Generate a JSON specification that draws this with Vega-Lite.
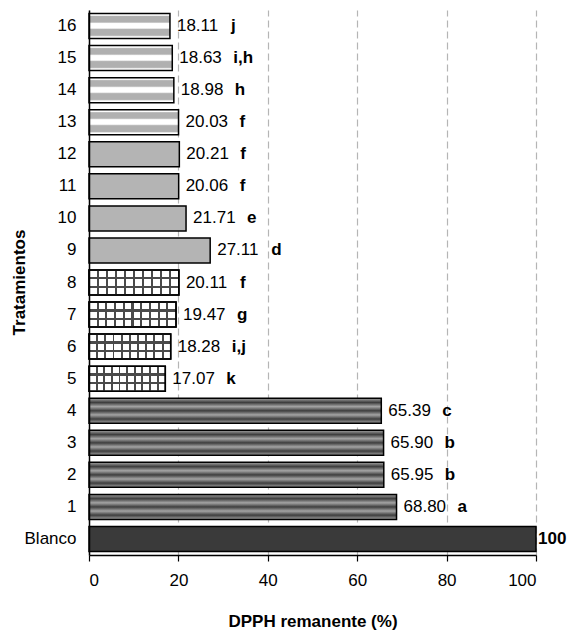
{
  "$schema": "https://vega.github.io/schema/vega-lite/v6.json",
  "width": 447,
  "height": 545,
  "autosize": {"type": "none"},
  "padding": {"left": 89, "top": 10, "right": 34, "bottom": 81},
  "background": "white",
  "config": {
    "font": "Liberation Sans",
    "view": {"stroke": null},
    "axis": {"labelColor": "black", "titleColor": "black", "domainColor": "black", "tickColor": "black"}
  },
  "data": {
    "values": [
      {"t": "Blanco", "v": 100, "g": "Blanco", "l": ""},
      {"t": "1", "v": 68.80, "g": "A", "l": "a"},
      {"t": "2", "v": 65.95, "g": "A", "l": "b"},
      {"t": "3", "v": 65.90, "g": "A", "l": "b"},
      {"t": "4", "v": 65.39, "g": "A", "l": "c"},
      {"t": "5", "v": 17.07, "g": "B", "l": "k"},
      {"t": "6", "v": 18.28, "g": "B", "l": "i,j"},
      {"t": "7", "v": 19.47, "g": "B", "l": "g"},
      {"t": "8", "v": 20.11, "g": "B", "l": "f"},
      {"t": "9", "v": 27.11, "g": "C", "l": "d"},
      {"t": "10", "v": 21.71, "g": "C", "l": "e"},
      {"t": "11", "v": 20.06, "g": "C", "l": "f"},
      {"t": "12", "v": 20.21, "g": "C", "l": "f"},
      {"t": "13", "v": 20.03, "g": "D", "l": "f"},
      {"t": "14", "v": 18.98, "g": "D", "l": "h"},
      {"t": "15", "v": 18.63, "g": "D", "l": "i,h"},
      {"t": "16", "v": 18.11, "g": "D", "l": "j"}
    ]
  },
  "encoding": {
    "y": {
      "field": "t",
      "type": "nominal",
      "sort": ["16", "15", "14", "13", "12", "11", "10", "9", "8", "7", "6", "5", "4", "3", "2", "1", "Blanco"],
      "scale": {"domain": ["16", "15", "14", "13", "12", "11", "10", "9", "8", "7", "6", "5", "4", "3", "2", "1", "Blanco"], "paddingInner": 0.22, "paddingOuter": 0.11},
      "axis": {
        "title": "Tratamientos",
        "titleFontSize": 17,
        "titleFontWeight": "bold",
        "titleAngle": -90,
        "titleX": -70,
        "titleY": 272,
        "titleAlign": "center",
        "titleBaseline": "middle",
        "labelFontSize": 17,
        "labelPadding": 13,
        "ticks": false,
        "domainWidth": 1.5,
        "zindex": 1
      }
    },
    "x": {
      "field": "v",
      "type": "quantitative",
      "scale": {"domain": [0, 100], "nice": false},
      "axis": {
        "title": "DPPH remanente (%)",
        "titleFontSize": 17,
        "titleFontWeight": "bold",
        "titlePadding": 25,
        "labelFontSize": 17,
        "labelPadding": 11,
        "tickSize": 6,
        "tickWidth": 1.2,
        "domainWidth": 1.5,
        "values": [0, 20, 40, 60, 80, 100],
        "grid": true,
        "gridDash": [7, 4],
        "gridColor": "#b5b5b5",
        "gridWidth": 1.2
      }
    }
  },
  "layer": [
    {
      "transform": [{"filter": "datum.g === 'Blanco'"}],
      "mark": {"type": "bar", "stroke": "black", "strokeWidth": 1.5, "fill": "#3a3a3a"}
    },
    {
      "transform": [{"filter": "datum.g === 'A'"}],
      "mark": {
        "type": "bar", "stroke": "black", "strokeWidth": 1.5,
        "fill": {"gradient": "linear", "x1": 0, "y1": 0, "x2": 0, "y2": 1, "stops": [
          {"offset": 0, "color": "#a4a4a4"},
          {"offset": 0.17, "color": "#3e3e3e"},
          {"offset": 0.335, "color": "#a4a4a4"},
          {"offset": 0.5, "color": "#3e3e3e"},
          {"offset": 0.665, "color": "#a4a4a4"},
          {"offset": 0.83, "color": "#3e3e3e"},
          {"offset": 1, "color": "#a4a4a4"}
        ]}
      }
    },
    {
      "transform": [{"filter": "datum.g === 'B'"}],
      "mark": {
        "type": "bar", "stroke": "black", "strokeWidth": 1.5,
        "fill": {"gradient": "linear", "x1": 0, "y1": 0, "x2": 0, "y2": 1, "stops": [
          {"offset": 0, "color": "#ffffff"},
          {"offset": 0.29, "color": "#ffffff"},
          {"offset": 0.29, "color": "#4a4a4a"},
          {"offset": 0.38, "color": "#4a4a4a"},
          {"offset": 0.38, "color": "#ffffff"},
          {"offset": 0.62, "color": "#ffffff"},
          {"offset": 0.62, "color": "#4a4a4a"},
          {"offset": 0.71, "color": "#4a4a4a"},
          {"offset": 0.71, "color": "#ffffff"},
          {"offset": 1, "color": "#ffffff"}
        ]}
      }
    },
    {
      "transform": [{"filter": "datum.g === 'B'"}],
      "mark": {
        "type": "bar", "stroke": "black", "strokeWidth": 1.5,
        "fill": {"gradient": "linear", "x1": 0, "y1": 0, "x2": 1, "y2": 0, "stops": [
          {"offset": 0, "color": "rgba(74,74,74,0)"},
          {"offset": 0.088, "color": "rgba(74,74,74,0)"},
          {"offset": 0.088, "color": "rgba(74,74,74,1)"},
          {"offset": 0.112, "color": "rgba(74,74,74,1)"},
          {"offset": 0.112, "color": "rgba(74,74,74,0)"},
          {"offset": 0.188, "color": "rgba(74,74,74,0)"},
          {"offset": 0.188, "color": "rgba(74,74,74,1)"},
          {"offset": 0.212, "color": "rgba(74,74,74,1)"},
          {"offset": 0.212, "color": "rgba(74,74,74,0)"},
          {"offset": 0.288, "color": "rgba(74,74,74,0)"},
          {"offset": 0.288, "color": "rgba(74,74,74,1)"},
          {"offset": 0.312, "color": "rgba(74,74,74,1)"},
          {"offset": 0.312, "color": "rgba(74,74,74,0)"},
          {"offset": 0.388, "color": "rgba(74,74,74,0)"},
          {"offset": 0.388, "color": "rgba(74,74,74,1)"},
          {"offset": 0.412, "color": "rgba(74,74,74,1)"},
          {"offset": 0.412, "color": "rgba(74,74,74,0)"},
          {"offset": 0.488, "color": "rgba(74,74,74,0)"},
          {"offset": 0.488, "color": "rgba(74,74,74,1)"},
          {"offset": 0.512, "color": "rgba(74,74,74,1)"},
          {"offset": 0.512, "color": "rgba(74,74,74,0)"},
          {"offset": 0.588, "color": "rgba(74,74,74,0)"},
          {"offset": 0.588, "color": "rgba(74,74,74,1)"},
          {"offset": 0.612, "color": "rgba(74,74,74,1)"},
          {"offset": 0.612, "color": "rgba(74,74,74,0)"},
          {"offset": 0.688, "color": "rgba(74,74,74,0)"},
          {"offset": 0.688, "color": "rgba(74,74,74,1)"},
          {"offset": 0.712, "color": "rgba(74,74,74,1)"},
          {"offset": 0.712, "color": "rgba(74,74,74,0)"},
          {"offset": 0.788, "color": "rgba(74,74,74,0)"},
          {"offset": 0.788, "color": "rgba(74,74,74,1)"},
          {"offset": 0.812, "color": "rgba(74,74,74,1)"},
          {"offset": 0.812, "color": "rgba(74,74,74,0)"},
          {"offset": 0.888, "color": "rgba(74,74,74,0)"},
          {"offset": 0.888, "color": "rgba(74,74,74,1)"},
          {"offset": 0.912, "color": "rgba(74,74,74,1)"},
          {"offset": 0.912, "color": "rgba(74,74,74,0)"},
          {"offset": 1, "color": "rgba(74,74,74,0)"}
        ]}
      }
    },
    {
      "transform": [{"filter": "datum.g === 'C'"}],
      "mark": {"type": "bar", "stroke": "black", "strokeWidth": 1.5, "fill": "#b4b4b4"}
    },
    {
      "transform": [{"filter": "datum.g === 'D'"}],
      "mark": {
        "type": "bar", "stroke": "black", "strokeWidth": 1.5,
        "fill": {"gradient": "linear", "x1": 0, "y1": 0, "x2": 0, "y2": 1, "stops": [
          {"offset": 0, "color": "#ffffff"},
          {"offset": 0.07, "color": "#ffffff"},
          {"offset": 0.12, "color": "#b0b0b0"},
          {"offset": 0.34, "color": "#b0b0b0"},
          {"offset": 0.4, "color": "#ffffff"},
          {"offset": 0.58, "color": "#ffffff"},
          {"offset": 0.64, "color": "#b0b0b0"},
          {"offset": 0.87, "color": "#b0b0b0"},
          {"offset": 0.93, "color": "#ffffff"},
          {"offset": 1, "color": "#ffffff"}
        ]}
      }
    },
    {
      "transform": [{"filter": "datum.t !== 'Blanco'"}],
      "mark": {"type": "text", "align": "left", "baseline": "middle", "dx": 7, "fontSize": 17, "color": "black"},
      "encoding": {"text": {"field": "v", "type": "quantitative", "format": ".2f"}}
    },
    {
      "transform": [{"filter": "datum.t !== 'Blanco'"}],
      "mark": {"type": "text", "align": "left", "baseline": "middle", "dx": 61, "fontSize": 17, "fontWeight": "bold", "color": "black"},
      "encoding": {"text": {"field": "l", "type": "nominal"}}
    },
    {
      "transform": [{"filter": "datum.t === 'Blanco'"}],
      "mark": {"type": "text", "align": "left", "baseline": "middle", "dx": 2, "fontSize": 17, "fontWeight": "bold", "color": "black"},
      "encoding": {"text": {"field": "v", "type": "quantitative", "format": "d"}}
    }
  ]
}
